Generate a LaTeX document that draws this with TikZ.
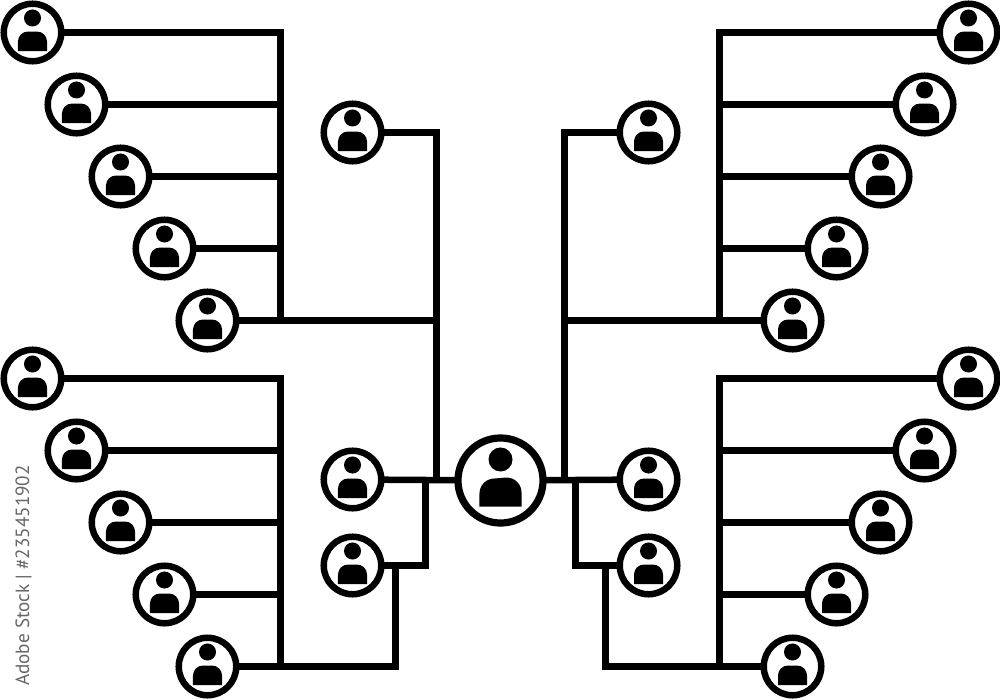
\documentclass[tikz,border=0pt]{standalone}
\usepackage{fontspec}
\setsansfont{PT Sans}
\tikzstyle{figure} = [fill=black, shift={(path picture bounding box.center)}]
\tikzstyle{person} = [circle, inner sep=0pt, outer sep=0pt, minimum size=5.75mm, draw=black, fill=white, line width=0.65mm, path picture={
  \fill [figure] (0cm,0.145cm) circle (0.085cm);
  \fill [figure] (-0.145cm,-0.185cm) -- (-0.145cm,-0.09cm) arc (180:90:0.1cm) -- (0.045cm,0.01cm) arc (90:0:0.1cm) -- (0.145cm,-0.185cm) -- cycle;}]
\tikzstyle{boss} = [circle, inner sep=0pt, outer sep=0pt, minimum size=8.5mm, draw=black, fill=white, line width=0.72mm, path picture={
  \fill [figure] (0cm,0.21cm) circle (0.12cm);
  \fill [figure] (-0.21cm,-0.26cm) -- (-0.21cm,-0.13cm) arc (180:90:0.15cm) -- (0.06cm,0.03cm) arc (90:0:0.15cm) -- (0.21cm,-0.26cm) -- cycle;}]
\tikzstyle{line} = [line width=0.65mm, line join=miter]
\begin{document}
\begin{tikzpicture}[x=0.01cm, y=-0.01cm]
\useasboundingbox (-0.5,-0.5) rectangle (999.5,699.5);
% center and inner persons
\node (boss) [boss] at (500,480) {};
\node (il1) [person] at (352,132) {};
\node (il2) [person] at (352,479) {};
\node (il3) [person] at (352,565) {};
\node (ir1) [person] at (648,132) {};
\node (ir2) [person] at (648,479) {};
\node (ir3) [person] at (648,565) {};
% left top
\node (lt1) [person] at (32,32) {};
\node (lt2) [person] at (76,104) {};
\node (lt3) [person] at (120,176) {};
\node (lt4) [person] at (164,248) {};
\node (lt5) [person] at (207,320) {};
% left bottom
\node (lb1) [person] at (32,378) {};
\node (lb2) [person] at (76,450) {};
\node (lb3) [person] at (120,522) {};
\node (lb4) [person] at (164,594) {};
\node (lb5) [person] at (207,666) {};
% right top
\node (rt1) [person] at (968,32) {};
\node (rt2) [person] at (924,104) {};
\node (rt3) [person] at (880,176) {};
\node (rt4) [person] at (836,248) {};
\node (rt5) [person] at (792,320) {};
% right bottom
\node (rb1) [person] at (968,378) {};
\node (rb2) [person] at (924,450) {};
\node (rb3) [person] at (880,522) {};
\node (rb4) [person] at (836,594) {};
\node (rb5) [person] at (792,666) {};

\coordinate (p1) at (280,32);
\coordinate (p2) at (280,320);
\coordinate (p3) at (436,320);
\coordinate (p4) at (436,480);
\coordinate (p5) at (280,378);
\coordinate (p6) at (280,666);
\coordinate (p7) at (395,666);
\coordinate (p8) at (395,565);
\coordinate (p9) at (425,565);
\coordinate (p10) at (425,480);
\coordinate (q1) at (719,32);
\coordinate (q2) at (719,320);
\coordinate (q3) at (564,320);
\coordinate (q4) at (564,480);
\coordinate (q5) at (719,378);
\coordinate (q6) at (719,666);
\coordinate (q7) at (605,666);
\coordinate (q8) at (605,565);
\coordinate (q9) at (575,565);
\coordinate (q10) at (575,480);

\draw [line](lt1) -- (p1) -- (p2);
\draw [line](lt2) -- (lt2 -| p1);
\draw [line](lt3) -- (lt3 -| p1);
\draw [line](lt4) -- (lt4 -| p1);
\draw [line](lt5) -- (p3);
\draw [line](il1) -| (p4);
\draw [line](il2) -- (boss);
\draw [line](lb1) -- (p5) -- (p6);
\draw [line](lb2) -- (lb2 -| p5);
\draw [line](lb3) -- (lb3 -| p5);
\draw [line](lb4) -- (lb4 -| p5);
\draw [line](lb5) -- (p7) -- (p8);
\draw [line](il3) -- (p9) -- (p10);
\draw [line](rt1) -- (q1) -- (q2);
\draw [line](rt2) -- (rt2 -| q1);
\draw [line](rt3) -- (rt3 -| q1);
\draw [line](rt4) -- (rt4 -| q1);
\draw [line](rt5) -- (q3);
\draw [line](ir1) -| (q4);
\draw [line](ir2) -- (boss);
\draw [line](rb1) -- (q5) -- (q6);
\draw [line](rb2) -- (rb2 -| q5);
\draw [line](rb3) -- (rb3 -| q5);
\draw [line](rb4) -- (rb4 -| q5);
\draw [line](rb5) -- (q7) -- (q8);
\draw [line](ir3) -- (q9) -- (q10);
\node (stock) [rotate=90, text=black!60, font=\sffamily\fontsize{5.45pt}{7pt}\selectfont, inner sep=0pt] at (23,575) {Adobe Stock | \#235451902};
\end{tikzpicture}
\end{document}
